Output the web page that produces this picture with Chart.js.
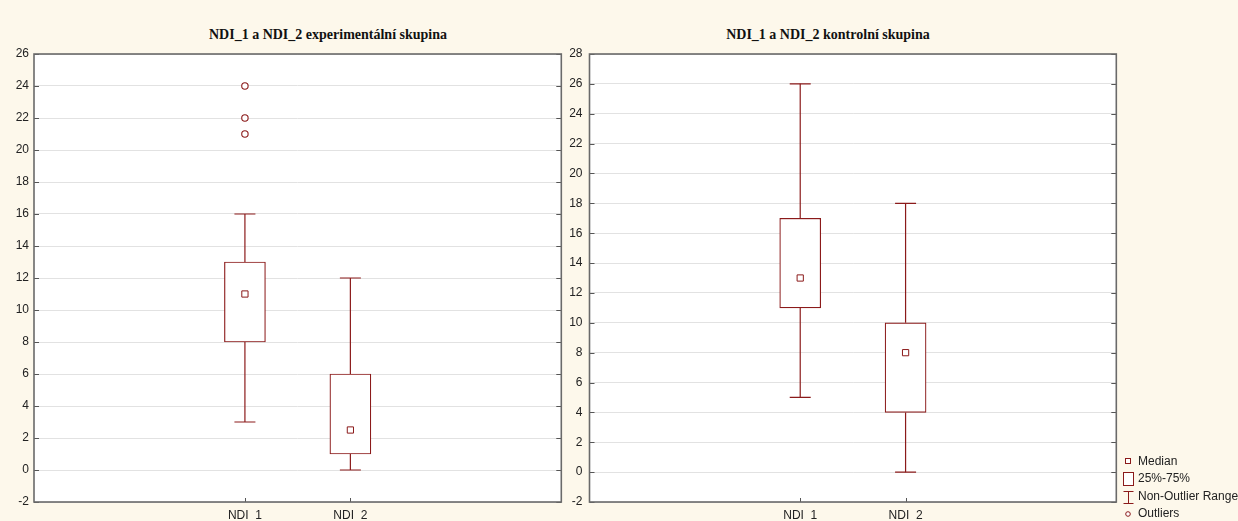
<!DOCTYPE html>
<html><head><meta charset="utf-8">
<script src="https://cdn.jsdelivr.net/npm/chart.js@4.4.1/dist/chart.umd.min.js"></script>
<style>
html,body{margin:0;padding:0;background:#fdf8eb;width:1238px;height:521px;overflow:hidden;font-family:'Liberation Sans',Arial,sans-serif}
.ttl{position:absolute;top:27px;line-height:17px;font:bold 14px 'Liberation Serif','Times New Roman',serif;color:#111;transform:translateX(-50%);white-space:nowrap}
canvas{position:absolute;top:0}
#lg{position:absolute;left:1121px;top:452px;font-size:12px;color:#222}
#lg .li{position:absolute;left:0;white-space:nowrap;height:14px;line-height:14px}
#lg svg{position:absolute;left:0;top:0;overflow:visible}
#lg span{position:absolute;left:17px}
</style></head><body>
<div class="ttl" style="left:328px">NDI_1 a NDI_2 experimentální skupina</div>
<div class="ttl" style="left:828px">NDI_1 a NDI_2 kontrolní skupina</div>
<canvas id="c-exp" width="573" height="521" style="left:0;width:573px;height:521px"></canvas>
<canvas id="c-ctl" width="566" height="521" style="left:562px;width:566px;height:521px"></canvas>
<div id="lg">
  <div class="li" style="top:2px"><svg width="12" height="14"><rect x="4.5" y="4.5" width="5" height="5" fill="#fff" stroke="#8b1a1a"/></svg><span>Median</span></div>
  <div class="li" style="top:19px"><svg width="12" height="16"><rect x="2.5" y="1.5" width="10" height="13" fill="#fff" stroke="#8b1a1a"/></svg><span>25%-75%</span></div>
  <div class="li" style="top:37px"><svg width="12" height="16"><path d="M2.5 2.5H12.5M7.5 2.5V14.5M2.5 14.5H12.5" stroke="#8b1a1a" fill="none"/></svg><span>Non-Outlier Range</span></div>
  <div class="li" style="top:54px"><svg width="12" height="14"><circle cx="7" cy="8" r="2.3" fill="#fff" stroke="#8b1a1a"/></svg><span>Outliers</span></div>
</div>
<script>
// ── Data ──────────────────────────────────────────────────────────────────────
const groups=['NDI_1','NDI_2'];

// experimentální skupina
const expMin=[3,0], expQ1=[8,1], expMed=[11,2.5], expQ3=[13,6], expMax=[16,12];
const expOut=[[21,22,24],[]];
const expTicks={min:-2,max:26,step:2};

// kontrolní skupina
const ctlMin=[5,0], ctlQ1=[11,4], ctlMed=[13,8], ctlQ3=[17,10], ctlMax=[26,18];
const ctlOut=[[],[]];
const ctlTicks={min:-2,max:28,step:2};

const RED='#8b1a1a', TXT='#222', GRID='#e2e2e2', EDGE='#6a6a6a';

// ── White plot area ───────────────────────────────────────────────────────────
const plotBg={id:'plotBg',beforeDraw(c){
  const {ctx,chartArea:a}=c;
  ctx.save(); ctx.fillStyle='#fff'; ctx.fillRect(a.left,a.top,a.right-a.left,a.bottom-a.top); ctx.restore();
}};

// ── Frame + inner ticks (Statistica style) ────────────────────────────────────
const frame={id:'frame',afterDatasetsDraw(c){
  const {ctx,chartArea:a,scales:{x,y}}=c;
  ctx.save(); ctx.strokeStyle='#555'; ctx.lineWidth=1; ctx.beginPath();
  y.ticks.forEach(t=>{const py=Math.round(y.getPixelForValue(t.value))+0.5;
    ctx.moveTo(a.left,py); ctx.lineTo(a.left+5,py); ctx.moveTo(a.right-5,py); ctx.lineTo(a.right,py);});
  x.ticks.forEach(t=>{const px=Math.round(x.getPixelForValue(t.value))+0.5;
    ctx.moveTo(px,a.bottom); ctx.lineTo(px,a.bottom-4);});
  ctx.stroke();
  ctx.strokeStyle=EDGE; ctx.lineWidth=1.6;
  ctx.strokeRect(a.left,a.top,a.right-a.left,a.bottom-a.top);
  ctx.restore();
}};

// ── Build one box plot ────────────────────────────────────────────────────────
function boxDatasets(mn,q1,md,q3,mx,out){
  const ds=[];
  ds.push({type:'bar',data:groups.map((g,i)=>({x:i+1,y:[q1[i],q3[i]]})),backgroundColor:'#fff',borderColor:RED,borderWidth:1.2,borderSkipped:false,barThickness:41,order:2});
  groups.forEach((g,i)=>{
    ds.push({type:'line',data:[{x:i+1,y:q3[i]},{x:i+1,y:mx[i]}],borderColor:RED,borderWidth:1.2,pointRadius:0,fill:false,order:3});
    ds.push({type:'line',data:[{x:i+1,y:mn[i]},{x:i+1,y:q1[i]}],borderColor:RED,borderWidth:1.2,pointRadius:0,fill:false,order:3});
  });
  ds.push({type:'scatter',data:groups.flatMap((g,i)=>[{x:i+1,y:mn[i]},{x:i+1,y:mx[i]}]),pointStyle:'line',pointRadius:10.5,borderColor:RED,borderWidth:1.2,order:1});
  ds.push({type:'scatter',data:groups.map((g,i)=>({x:i+1,y:md[i]})),pointStyle:'rect',pointRadius:4.4,backgroundColor:'#fff',borderColor:RED,borderWidth:1,order:0});
  ds.push({type:'scatter',data:groups.flatMap((g,i)=>out[i].map(v=>({x:i+1,y:v}))),pointStyle:'circle',pointRadius:3.2,backgroundColor:'#fff',borderColor:RED,borderWidth:1.1,order:0});
  return ds;
}

function boxChart(id,ds,tk,yw,lblPad){
  return new Chart(document.getElementById(id).getContext('2d'),{
    type:'bar',
    data:{datasets:ds},
    plugins:[plotBg,frame],
    options:{
      responsive:false,animation:false,events:[],
      layout:{padding:{top:54,right:1,left:0,bottom:0}},
      plugins:{legend:{display:false},tooltip:{enabled:false}},
      scales:{
        x:{type:'linear',min:-1,max:4,offset:false,grid:{display:false,drawTicks:false},border:{display:false},
          afterBuildTicks:s=>{s.ticks=groups.map((g,i)=>({value:i+1}));},
          afterFit:s=>{s.height=19;},
          ticks:{autoSkip:false,maxRotation:0,padding:6,color:TXT,font:{family:"'Liberation Sans',Arial",size:12},callback:v=>groups[v-1]}},
        y:{min:tk.min,max:tk.max,grid:{color:GRID,lineWidth:1,drawTicks:false},border:{display:false},
          afterFit:s=>{s.width=yw;},
          ticks:{stepSize:tk.step,padding:lblPad,color:TXT,font:{family:"'Liberation Sans',Arial",size:12}}}
      }
    }
  });
}

boxChart('c-exp',boxDatasets(expMin,expQ1,expMed,expQ3,expMax,expOut),expTicks,34,5);
boxChart('c-ctl',boxDatasets(ctlMin,ctlQ1,ctlMed,ctlQ3,ctlMax,ctlOut),ctlTicks,27.5,7);
</script>
</body></html>
